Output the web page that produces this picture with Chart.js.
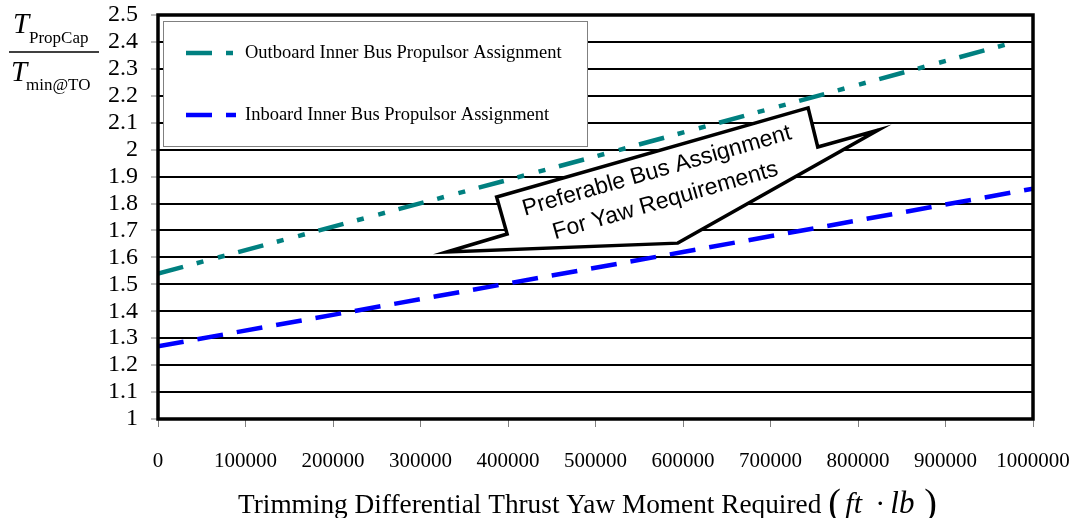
<!DOCTYPE html>
<html>
<head>
<meta charset="utf-8">
<script src="https://cdn.jsdelivr.net/npm/chart.js@4.4.1/dist/chart.umd.min.js"></script>
<style>
  html, body { margin: 0; padding: 0; background: #fff; }
  #wrap { width: 1078px; height: 518px; }
</style>
</head>
<body>
<div id="wrap"><canvas id="grafico" width="1078" height="518"></canvas></div>
<script>
// Dados
const momentoOutboard = [0, 500000, 980000];
const razaoOutboard = [1.54, 1.975, 2.40];
const momentoInboard = [0, 600000, 1000000];
const razaoInboard = [1.27, 1.62, 1.855];
const nomesSeries = ['Outboard Inner Bus Propulsor Assignment', 'Inboard Inner Bus Propulsor Assignment'];
const coresSeries = ['#008080', '#0000ff'];
const tracosSeries = [[26, 14, 7, 15, 7, 14], [26, 14]];

const limitesX = [0, 1000000];
const passoX = 100000;
const limitesY = [1, 2.5];
const passoY = 0.1;

// Seta "Preferable Bus Assignment" (em coordenadas de dados)
const setaX = [330000, 399000, 387000, 743000, 754000, 823000, 594000];
const setaY = [1.62, 1.687, 1.824, 2.155, 2.01, 2.073, 1.653];
const textoSeta = ['Preferable Bus Assignment', 'For Yaw Requirements'];
const centroTextoSeta = [575000, 1.865];

const tituloX = 'Trimming Differential Thrust Yaw Moment Required';

const SERIF = '"Liberation Serif", "Times New Roman", serif';
const SANS = '"Liberation Sans", Arial, sans-serif';

// Legenda, seta e moldura desenhadas por cima das linhas
const pluginExtras = {
  id: 'extras',
  afterDatasetsDraw(chart) {
    const ctx = chart.ctx;
    const a = chart.chartArea;
    const sx = chart.scales.x, sy = chart.scales.y;

    // legenda
    ctx.save();
    const lx = a.left + 5, ly = a.top + 6;
    ctx.fillStyle = '#fff';
    ctx.fillRect(lx, ly, 424, 125);
    ctx.strokeStyle = '#808080';
    ctx.lineWidth = 1;
    ctx.strokeRect(lx + 0.5, ly + 0.5, 424, 125);
    chart.data.datasets.forEach((ds, i) => {
      const y = ly + 32 + i * 62;
      ctx.beginPath();
      ctx.setLineDash(ds.borderDash);
      ctx.strokeStyle = ds.borderColor;
      ctx.lineWidth = 4.5;
      ctx.moveTo(lx + 23, y);
      ctx.lineTo(lx + 73, y);
      ctx.stroke();
      ctx.setLineDash([]);
      ctx.fillStyle = '#000';
      ctx.font = '18.5px ' + SERIF;
      ctx.textBaseline = 'middle';
      ctx.textAlign = 'left';
      ctx.fillText(ds.label, lx + 82, y);
    });
    ctx.restore();

    // seta
    ctx.save();
    ctx.beginPath();
    setaX.forEach((v, i) => {
      const px = sx.getPixelForValue(v), py = sy.getPixelForValue(setaY[i]);
      if (i === 0) ctx.moveTo(px, py); else ctx.lineTo(px, py);
    });
    ctx.closePath();
    ctx.fillStyle = '#fff';
    ctx.fill();
    ctx.strokeStyle = '#000';
    ctx.lineWidth = 3.5;
    ctx.lineJoin = 'miter';
    ctx.stroke();
    ctx.translate(sx.getPixelForValue(centroTextoSeta[0]), sy.getPixelForValue(centroTextoSeta[1]));
    ctx.rotate(-16 * Math.PI / 180);
    ctx.fillStyle = '#000';
    ctx.font = '23px ' + SANS;
    ctx.textAlign = 'center';
    ctx.textBaseline = 'middle';
    ctx.fillText(textoSeta[0], 0, -15.5);
    ctx.fillText(textoSeta[1], 0, 15.5);
    ctx.restore();

    // moldura da área do gráfico
    ctx.save();
    ctx.strokeStyle = '#000';
    ctx.lineWidth = 3.5;
    ctx.strokeRect(a.left, a.top, a.right - a.left, a.bottom - a.top);
    ctx.restore();
  },
  afterDraw(chart) {
    const ctx = chart.ctx;
    ctx.save();
    ctx.fillStyle = '#000';
    ctx.textAlign = 'left';
    ctx.textBaseline = 'alphabetic';

    // título do eixo Y (fração)
    ctx.font = 'italic 29px ' + SERIF;
    ctx.fillText('T', 13, 33);
    ctx.fillText('T', 11, 81);
    ctx.font = '17px ' + SERIF;
    ctx.fillText('PropCap', 29, 43);
    ctx.fillText('min@TO', 26, 90);
    ctx.beginPath();
    ctx.strokeStyle = '#000';
    ctx.lineWidth = 1.5;
    ctx.moveTo(9, 52);
    ctx.lineTo(99, 52);
    ctx.stroke();

    // título do eixo X
    const x0 = 238;
    const base = 513;
    ctx.font = '27.3px ' + SERIF;
    ctx.fillText(tituloX, x0, base);
    const fim = x0 + ctx.measureText(tituloX).width;
    ctx.font = '38px ' + SERIF;
    ctx.fillText('(', fim + 7, base + 2);
    ctx.font = 'italic 30px ' + SERIF;
    ctx.fillText('ft', fim + 24, base);
    ctx.font = '30px ' + SERIF;
    ctx.fillText('\u00b7', fim + 54, base);
    ctx.font = 'italic 31px ' + SERIF;
    ctx.fillText('lb', fim + 69, base);
    ctx.font = '38px ' + SERIF;
    ctx.fillText(')', fim + 103, base + 2);
    ctx.restore();
  }
};

function montaPontos(xs, ys) {
  return xs.map((v, i) => ({ x: v, y: ys[i] }));
}

new Chart(document.getElementById('grafico'), {
  type: 'line',
  data: {
    datasets: [
      {
        label: nomesSeries[0],
        data: montaPontos(momentoOutboard, razaoOutboard),
        borderColor: coresSeries[0],
        borderDash: tracosSeries[0],
        borderWidth: 4.5,
        pointRadius: 0,
        fill: false,
        tension: 0
      },
      {
        label: nomesSeries[1],
        data: montaPontos(momentoInboard, razaoInboard),
        borderColor: coresSeries[1],
        borderDash: tracosSeries[1],
        borderWidth: 4.5,
        pointRadius: 0,
        fill: false,
        tension: 0
      }
    ]
  },
  options: {
    responsive: false,
    animation: false,
    layout: { padding: { left: 0, right: 45, top: 15, bottom: 0 } },
    plugins: {
      legend: { display: false },
      tooltip: { enabled: false }
    },
    scales: {
      x: {
        type: 'linear',
        min: limitesX[0],
        max: limitesX[1],
        ticks: {
          stepSize: passoX,
          autoSkip: false,
          maxRotation: 0,
          color: '#000',
          padding: 22,
          font: { family: SERIF, size: 21 },
          callback: v => String(v)
        },
        grid: { drawOnChartArea: false, tickLength: 8, tickColor: '#808080', tickWidth: 1 },
        border: { display: false },
        afterFit: s => { s.height = 99; s.paddingLeft = 0; s.paddingRight = 0; }
      },
      y: {
        type: 'linear',
        min: limitesY[0],
        max: limitesY[1],
        ticks: {
          stepSize: passoY,
          autoSkip: false,
          color: '#000',
          padding: 13,
          font: { family: SERIF, size: 24 },
          callback: v => Number(v.toFixed(1)).toString()
        },
        grid: { color: '#000', lineWidth: 2, tickLength: 7, tickColor: '#808080', tickWidth: 1 },
        border: { display: false },
        afterFit: s => { s.width = 158; s.paddingTop = 0; s.paddingBottom = 0; }
      }
    }
  },
  plugins: [pluginExtras]
});
</script>
</body>
</html>
